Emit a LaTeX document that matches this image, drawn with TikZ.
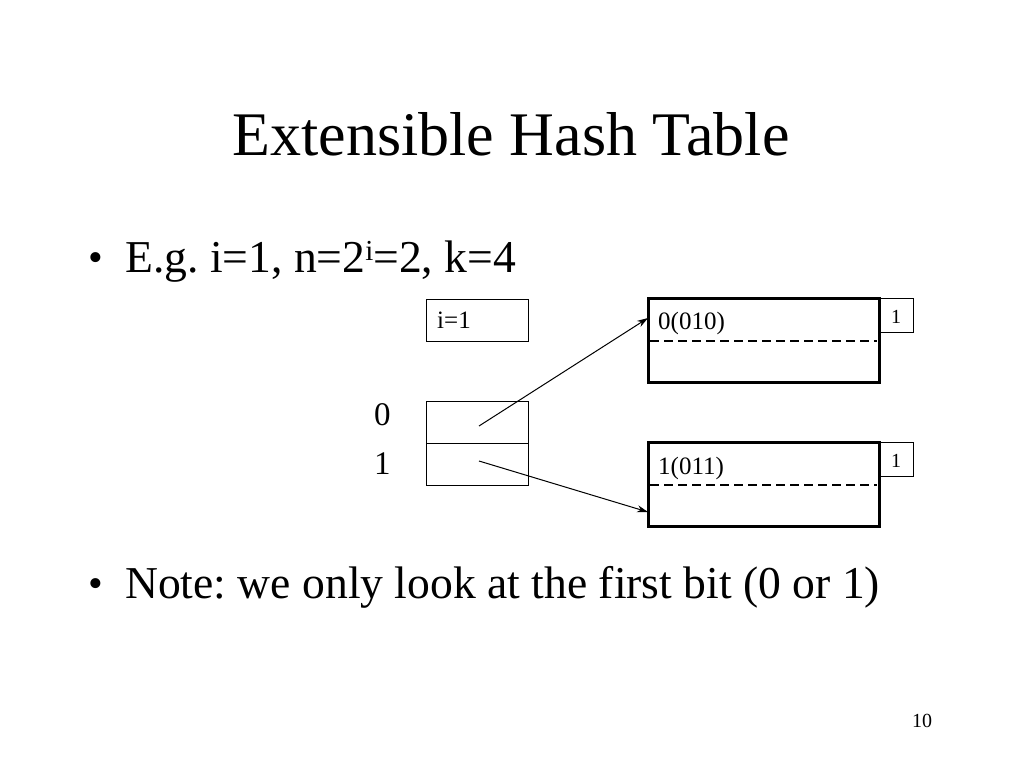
\documentclass[tikz,border=0pt]{standalone}
\usepackage{fontspec}
\setmainfont{Liberation Serif}
\usetikzlibrary{arrows.meta}
\frenchspacing
\begin{document}
\begin{tikzpicture}[x=1pt,y=-1pt,
  thinbox/.style={draw,line width=1pt},
  thickbox/.style={draw,line width=3pt},
  divider/.style={dashed,dash pattern=on 9pt off 5pt,line width=1.2pt},
  ptr/.style={-{Stealth[length=11pt,width=7pt]},line width=1pt},
  txt/.style={inner sep=0pt,anchor=base west}]
\useasboundingbox (0,0) rectangle (1024,768);
% title
\node[inner sep=0pt,anchor=base] (title) at (511,155) {\fontsize{62}{70}\selectfont Extensible Hash Table};
% bullets
\node[txt] (b1dot) at (88,271) {\fontsize{42}{44}\selectfont •};
\node[txt] (b1) at (125,272) {\fontsize{45.6}{50}\selectfont E.g. i=1, n=2\raisebox{0.55ex}{\fontsize{29}{30}\selectfont i}=2, k=4};
\node[txt] (b2dot) at (88,597) {\fontsize{42}{44}\selectfont •};
\node[txt] (b2) at (125,598) {\fontsize{45.6}{50}\selectfont Note: we only look at the first bit (0 or 1)};
% i=1 box
\draw[thinbox] (426,299) rectangle (528,341);
\node[txt] (ilabel) at (437,328) {\fontsize{25}{28}\selectfont i=1};
% directory
\draw[thinbox] (426,401) rectangle (528,485);
\draw[thinbox] (426,443) -- (528,443);
\node[txt] (l0) at (374,425) {\fontsize{33}{36}\selectfont 0};
\node[txt] (l1) at (374,474) {\fontsize{33}{36}\selectfont 1};
\coordinate (d0) at (479,426);
\coordinate (d1) at (479,461);
% bucket 0
\draw[thickbox] (648,298) rectangle (879,382);
\draw[divider] (650,341) -- (877,341);
\draw[thinbox] (879,298) rectangle (913,332);
\node[txt] (b0t) at (658,329) {\fontsize{25}{28}\selectfont 0(010)};
\node[txt] (c0) at (891,323) {\fontsize{20}{24}\selectfont 1};
\coordinate (t0) at (648,318);
% bucket 1
\draw[thickbox] (648,442) rectangle (879,526);
\draw[divider] (650,485) -- (877,485);
\draw[thinbox] (879,442) rectangle (913,476);
\node[txt] (b1t) at (658,474) {\fontsize{25}{28}\selectfont 1(011)};
\node[txt] (c1) at (891,467) {\fontsize{20}{24}\selectfont 1};
\coordinate (t1) at (648,512);
% pointers
\draw[ptr] (d0) -- (t0);
\draw[ptr] (d1) -- (t1);
% page number
\node[txt] (pg) at (912,727) {\fontsize{20}{24}\selectfont 10};
\end{tikzpicture}
\end{document}
